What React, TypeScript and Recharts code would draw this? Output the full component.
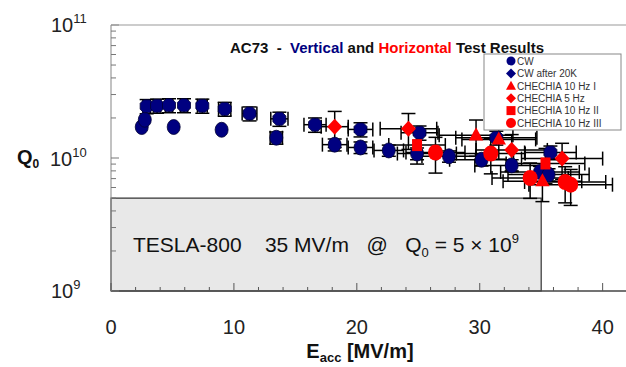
import { ScatterChart, Scatter, XAxis, YAxis, ErrorBar, ReferenceArea } from 'recharts';

const BLUE = '#000080';
const RED = '#ff0000';
const NARROW = "'Liberation Sans Narrow', 'Liberation Sans', Arial, sans-serif";
const SANS = "'Liberation Sans', Arial, sans-serif";

// CW (circles)
const cwE = [2.5, 2.75, 5.1, 9.0, 13.45, 18.2, 20.3, 22.6, 24.9, 27.5, 30.15, 32.6, 34.9, 35.6];
const cwQ = [1.71e10, 1.94e10, 1.71e10, 1.63e10, 1.42e10, 1.26e10, 1.2e10, 1.14e10, 1.08e10, 1.03e10, 9.7e9, 8.8e9, 7.85e9, 7.5e9];
const cwEErr = [0, 0, 0, 0, 0.5, 1.0, 1.0, 1.2, 1.6, 2.2, 2.6, 3.0, 3.2, 3.3];
const cwQErr = [0, 0, 0, 0, 1.5e9, 1.3e9, 1.2e9, 1.1e9, 1.1e9, 1.0e9, 1.0e9, 0.9e9, 0.8e9, 0.8e9];

// CW after 20K (diamonds)
const cw20E = [2.9, 3.75, 4.72, 5.94, 7.43, 9.25, 11.27, 13.7, 16.6, 20.3, 25.1, 31.35, 35.75];
const cw20Q = [2.45e10, 2.47e10, 2.49e10, 2.49e10, 2.47e10, 2.34e10, 2.16e10, 1.97e10, 1.78e10, 1.64e10, 1.55e10, 1.42e10, 1.1e10];
const cw20EErr = [0.3, 0.3, 0.3, 0.3, 0.4, 0.5, 0.6, 0.7, 0.9, 1.0, 1.5, 3.3, 2.1];
const cw20QErr = [3.0e9, 3.0e9, 3.0e9, 3.0e9, 3.0e9, 2.8e9, 2.6e9, 2.4e9, 2.2e9, 2.0e9, 1.9e9, 1.7e9, 1.3e9];

// CHECHIA 10 Hz I (triangles)
const hz10aE = [29.7, 31.55, 35.1];
const hz10aQ = [1.48e10, 1.38e10, 6.7e9];
const hz10aEErr = [3.0, 3.0, 3.2];
const hz10aQErr = [4.5e9, 4.0e9, 2.0e9];

// CHECHIA 5 Hz (diamonds)
const hz5E = [18.2, 24.2, 32.6, 36.7];
const hz5Q = [1.72e10, 1.66e10, 1.15e10, 9.9e9];
const hz5EErr = [1.1, 2.3, 2.9, 3.3];
const hz5QErr = [5.2e9, 5.0e9, 3.5e9, 3.0e9];

// CHECHIA 10 Hz II (squares)
const hz10bE = [24.9, 35.35];
const hz10bQ = [1.25e10, 9.1e9];
const hz10bEErr = [2.3, 3.2];
const hz10bQErr = [3.5e9, 2.7e9];

// CHECHIA 10 Hz III (circles)
const hz10cE = [26.4, 30.9, 34.1, 36.95, 37.4];
const hz10cQ = [1.1e10, 1.08e10, 7.07e9, 6.6e9, 6.3e9];
const hz10cEErr = [2.4, 2.8, 3.1, 3.3, 3.4];
const hz10cQErr = [3.3e9, 3.2e9, 2.1e9, 2.0e9, 1.9e9];

const xTicks = [0, 2, 4, 6, 8, 10, 12, 14, 16, 18, 20, 22, 24, 26, 28, 30, 32, 34, 36, 38, 40];
const xLabels = [0, 10, 20, 30, 40];
const yTicks = [1e9, 2e9, 3e9, 4e9, 5e9, 6e9, 7e9, 8e9, 9e9, 1e10, 2e10, 3e10, 4e10, 5e10, 6e10, 7e10, 8e10, 9e10, 1e11];
const yDecades = [1e9, 1e10, 1e11];

const legendItems = ['CW', 'CW after 20K', 'CHECHIA 10 Hz I', 'CHECHIA 5 Hz', 'CHECHIA 10 Hz II', 'CHECHIA 10 Hz III'];

const build = (e: number[], q: number[], ee: number[], qe: number[]) =>
  e.map((x, i) => ({ x, y: q[i], ex: ee[i], ey: qe[i] }));

const circle = (color: string, rx: number, ry: number, outline?: string) => (p: any) =>
  <ellipse cx={p.cx} cy={p.cy} rx={rx} ry={ry} fill={color} stroke={outline || 'none'} strokeWidth={0.8} />;

const diamond = (color: string, w: number, h: number, outline?: string) => (p: any) =>
  <polygon points={`${p.cx},${p.cy - h} ${p.cx + w},${p.cy} ${p.cx},${p.cy + h} ${p.cx - w},${p.cy}`} fill={color} stroke={outline || 'none'} strokeWidth={0.8} />;

// rounded blue marker of the "after 20K" set (octagon-like in the original)
const octagon = (color: string, r: number) => (p: any) => {
  const k = r * 0.45;
  const pts = [
    [p.cx - k, p.cy - r], [p.cx + k, p.cy - r], [p.cx + r, p.cy - k], [p.cx + r, p.cy + k],
    [p.cx + k, p.cy + r], [p.cx - k, p.cy + r], [p.cx - r, p.cy + k], [p.cx - r, p.cy - k],
  ];
  return <polygon points={pts.map((q) => q.join(',')).join(' ')} fill={color} stroke="#000033" strokeWidth={0.8} />;
};

const triangle = (color: string, s: number) => (p: any) =>
  <polygon points={`${p.cx},${p.cy - s} ${p.cx + s * 0.9},${p.cy + s * 0.65} ${p.cx - s * 0.9},${p.cy + s * 0.65}`} fill={color} />;

const square = (color: string, w: number, h: number) => (p: any) =>
  <rect x={p.cx - w / 2} y={p.cy - h / 2} width={w} height={h} fill={color} />;

const XTick = (props: any) => {
  const { x, y, payload } = props;
  const major = xLabels.includes(payload.value);
  return (
    <g>
      <line x1={x} y1={y} x2={x} y2={y - (major ? 8 : 4)} stroke="#555" strokeWidth={1} />
      {major && (
        <text x={x} y={y + 43} textAnchor="middle" fontSize={20} fontFamily={NARROW} fill="#222">
          {payload.value}
        </text>
      )}
    </g>
  );
};

const YTick = (props: any) => {
  const { x, y, payload } = props;
  const major = yDecades.includes(payload.value);
  return <line x1={x} y1={y} x2={x + (major ? 8 : 5)} y2={y} stroke="#777" strokeWidth={1} />;
};

const ErrBars = () => (
  <>
    <ErrorBar dataKey="ex" direction="x" width={7} stroke="#000" strokeWidth={1.5} />
    <ErrorBar dataKey="ey" direction="y" width={7} stroke="#000" strokeWidth={1.5} />
  </>
);

const legendSymbol = (i: number, cx: number, cy: number) => {
  switch (i) {
    case 0: return <circle cx={cx} cy={cy} r={4.5} fill={BLUE} />;
    case 1: return <polygon points={`${cx},${cy - 5} ${cx + 5},${cy} ${cx},${cy + 5} ${cx - 5},${cy}`} fill={BLUE} />;
    case 2: return <polygon points={`${cx},${cy - 5} ${cx + 5},${cy + 4} ${cx - 5},${cy + 4}`} fill={RED} />;
    case 3: return <polygon points={`${cx},${cy - 5} ${cx + 5},${cy} ${cx},${cy + 5} ${cx - 5},${cy}`} fill={RED} />;
    case 4: return <rect x={cx - 4.5} y={cy - 4.5} width={9} height={9} fill={RED} />;
    default: return <circle cx={cx} cy={cy} r={5} fill={RED} />;
  }
};

export default function App() {
  return (
    <div style={{ position: 'absolute', left: 0, top: 0, width: 626, height: 367, background: '#fff' }}>
      <ScatterChart width={626} height={367} margin={{ top: 25, right: 0, bottom: 75, left: 110 }}>
        <XAxis
          type="number"
          dataKey="x"
          domain={[0, 41.9]}
          ticks={xTicks}
          interval={0}
          height={1}
          tickSize={0}
          tickMargin={0}
          tickLine={false}
          tick={<XTick />}
          axisLine={{ stroke: '#444', strokeWidth: 1.5 }}
          allowDataOverflow
        />
        <YAxis
          type="number"
          dataKey="y"
          scale="log"
          domain={[1e9, 1e11]}
          ticks={yTicks}
          interval={0}
          width={1}
          tickSize={0}
          tickMargin={0}
          tickLine={false}
          tick={<YTick />}
          axisLine={{ stroke: '#999', strokeWidth: 1.2 }}
          allowDataOverflow
        />
        <ReferenceArea x1={0} x2={35} y1={1e9} y2={5e9} fill="#e8e8e8" fillOpacity={1} stroke="#333" strokeWidth={1.2} />
        <Scatter name="CW" data={build(cwE, cwQ, cwEErr, cwQErr)} shape={circle(BLUE, 6.5, 7.5, '#000033')} isAnimationActive={false}>
          {ErrBars()}
        </Scatter>
        <Scatter name="CW after 20K" data={build(cw20E, cw20Q, cw20EErr, cw20QErr)} shape={octagon(BLUE, 6.5)} isAnimationActive={false}>
          {ErrBars()}
        </Scatter>
        <Scatter name="CHECHIA 10 Hz I" data={build(hz10aE, hz10aQ, hz10aEErr, hz10aQErr)} shape={triangle(RED, 8)} isAnimationActive={false}>
          {ErrBars()}
        </Scatter>
        <Scatter name="CHECHIA 5 Hz" data={build(hz5E, hz5Q, hz5EErr, hz5QErr)} shape={diamond(RED, 7.5, 8)} isAnimationActive={false}>
          {ErrBars()}
        </Scatter>
        <Scatter name="CHECHIA 10 Hz II" data={build(hz10bE, hz10bQ, hz10bEErr, hz10bQErr)} shape={square(RED, 10, 12)} isAnimationActive={false}>
          {ErrBars()}
        </Scatter>
        <Scatter name="CHECHIA 10 Hz III" data={build(hz10cE, hz10cQ, hz10cEErr, hz10cQErr)} shape={circle(RED, 7.5, 8)} isAnimationActive={false}>
          {ErrBars()}
        </Scatter>
      </ScatterChart>

      <svg width={626} height={367} style={{ position: 'absolute', left: 0, top: 0, pointerEvents: 'none' }}>
        <line x1={111} y1={25} x2={626} y2={25} stroke="#999" strokeWidth={1.2} />

        <text x={230} y={53} fontSize={15} fontWeight="bold" fontFamily={SANS} xmlSpace="preserve" fill="#111">
          {'AC73  -  '}
          <tspan fill={BLUE}>Vertical</tspan>
          {' and '}
          <tspan fill={RED}>Horizontal</tspan>
          {' Test Results'}
        </text>

        <rect x={484} y={54} width={137} height={76} fill="#fff" stroke="#888" strokeWidth={1} />
        {legendItems.map((name, i) => (
          <g key={name}>
            {legendSymbol(i, 511, 61 + i * 12.4)}
            <text x={517} y={61 + i * 12.4 + 3.8} fontSize={10} fontFamily={SANS} fill="#333">{name}</text>
          </g>
        ))}

        <text x={51} y={32} fontSize={20} fontFamily={NARROW} fill="#222">
          10<tspan dy={-9} fontSize={13}>11</tspan>
        </text>
        <text x={17} y={164} fontSize={20} fontWeight="bold" fontFamily={SANS} fill="#111">
          Q<tspan dy={4} fontSize={12}>0</tspan>
        </text>
        <text x={50} y={166} fontSize={20} fontFamily={NARROW} fill="#222">
          10<tspan dy={-9} fontSize={13}>10</tspan>
        </text>
        <text x={51} y={298} fontSize={20} fontFamily={NARROW} fill="#222">
          10<tspan dy={-9} fontSize={13}>9</tspan>
        </text>

        <text x={360} y={358} textAnchor="middle" fontSize={20} fontWeight="bold" fontFamily={NARROW} fill="#111">
          E<tspan dy={4} fontSize={13}>acc</tspan>
          <tspan dy={-4}> [MV/m]</tspan>
        </text>

        <text x={133} y={252} fontSize={21} fontFamily={NARROW} fill="#111" xmlSpace="preserve">
          {'TESLA-800    35 MV/m   @   Q'}
          <tspan dy={5} fontSize={13}>0</tspan>
          <tspan dy={-5}>{' = 5 × 10'}</tspan>
          <tspan dy={-9} fontSize={13}>9</tspan>
        </text>
      </svg>
    </div>
  );
}
